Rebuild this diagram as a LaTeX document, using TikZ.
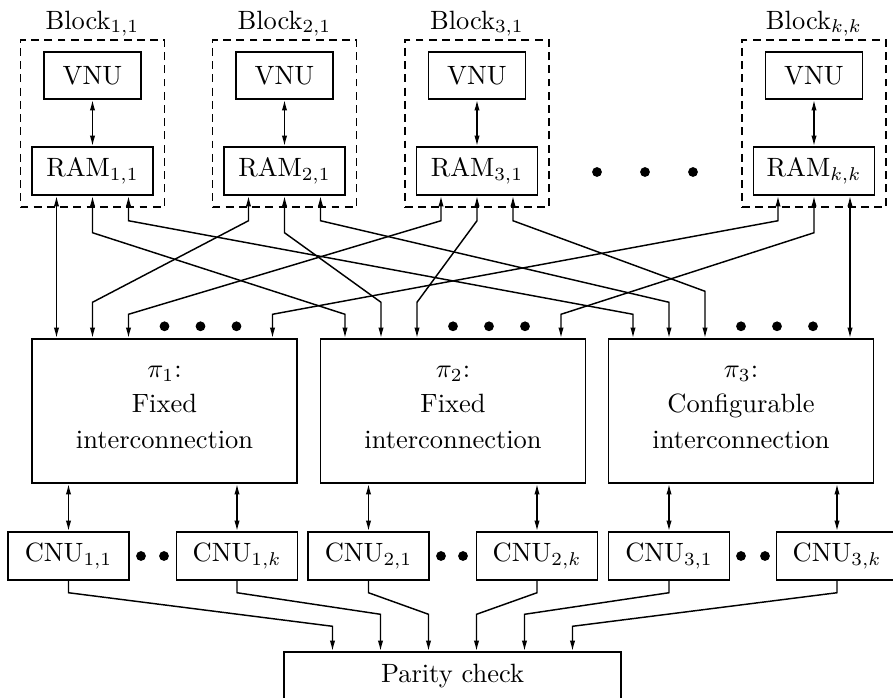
\documentclass[tikz,border=0pt]{standalone}
\usetikzlibrary{arrows.meta,calc}
\begin{document}
\begin{tikzpicture}[x=0.378pt,y=-0.378pt, line width=0.55pt,
  tipa/.tip={Latex[length=4pt,width=2pt]},
  arr/.style={-tipa},
  dbl/.style={tipa-tipa},
  ubox/.style={draw, inner sep=0pt, minimum width=45.74pt, minimum height=18.14pt},
  vnubox/.style={draw, inner sep=0pt, minimum width=36.67pt, minimum height=17.77pt},
  blkframe/.style={draw, dash pattern=on 3pt off 2pt, inner sep=0pt, minimum width=54.43pt, minimum height=63.13pt},
  pibox/.style={draw, align=center, inner sep=0pt, text depth=3pt, minimum width=100.17pt, minimum height=54.43pt},
  parbox/.style={draw, inner sep=0pt, minimum width=127.4pt, minimum height=18.14pt},
  dotr/.style={fill=black}]
\useasboundingbox (0,0) rectangle (893,697);

% top blocks
\foreach \i/\x/\s in {1/92.5/{1,1}, 2/284.5/{2,1}, 3/477/{3,1}, k/814/{k,k}} {
  \node[blkframe] (b\i) at (\x,123.5) {};
  \node[anchor=base] (bl\i) at (\x,29) {Block$_{\s}$};
  \node[vnubox] (v\i) at (\x,75.5) {VNU};
  \node[ubox] (r\i) at (\x,171) {RAM$_{\s}$};
  \draw[dbl] (v\i) -- (r\i);
}

% interconnection boxes
\node[pibox] (p1) at (164.5,411) {$\pi_1$:\\[1.5pt]Fixed\\[1.5pt]interconnection};
\node[pibox] (p2) at (453,411) {$\pi_2$:\\[1.5pt]Fixed\\[1.5pt]interconnection};
\node[pibox] (p3) at (741,411) {$\pi_3$:\\[1.5pt]Configurable\\[1.5pt]interconnection};

% CNUs
\node[ubox] (c11) at (68.5,556) {CNU$_{1,1}$};
\node[ubox] (c1k) at (237,556) {CNU$_{1,k}$};
\node[ubox] (c21) at (368.5,556) {CNU$_{2,1}$};
\node[ubox] (c2k) at (537,556) {CNU$_{2,k}$};
\node[ubox] (c31) at (669,556) {CNU$_{3,1}$};
\node[ubox] (c3k) at (837,556) {CNU$_{3,k}$};

% parity check
\node[parbox] (par) at (452.5,676) {Parity check};

% RAM -> interconnections
\draw[dbl] ($(r1.south)+(-36,0)$) coordinate (s1) -- (s1 |- p1.north);
\draw[dbl] ($(rk.south)+(36,0)$) coordinate (s2) -- (s2 |- p3.north);
\foreach \ra/\rdx/\rb/\pb/\pdx/\pbend in {r1/0/37/p2/-108/24, r1/36/25/p3/-108/24,
    r2/-36/25/p1/-72/36, r2/0/37/p2/-72/36, r2/36/25/p3/-72/36,
    r3/-36/25/p1/-36/24, r3/0/25/p2/-36/36, r3/36/25/p3/-36/47,
    rk/-36/25/p1/108/24, rk/0/37/p2/108/24}
  \draw[dbl] ($(\ra.south)+(\rdx,0)$) -- ++(0,\rb) -- ($(\pb.north)+(\pdx,-\pbend)$) -- ($(\pb.north)+(\pdx,0)$);

% interconnections -> CNUs
\foreach \c/\p in {c11/p1, c1k/p1, c21/p2, c2k/p2, c31/p3, c3k/p3}
  \draw[dbl] (\c.north |- \p.south) -- (\c.north);

% CNUs -> parity
\foreach \c/\dx/\bd in {c11/-120/25, c1k/-72/37, c21/-24/37, c2k/24/37, c31/72/37, c3k/120/25}
  \draw[arr] (\c.south) -- ++(0,12) -- ($(par.north)+(\dx,-\bd)$) -- ($(par.north)+(\dx,0)$);

% dots
\foreach \x in {597,645,693} \fill[dotr] (\x,172) circle (1.85pt);
\foreach \p in {p1,p2,p3} \foreach \d in {0,36,72}
  \fill[dotr] ($(\p.north)+(\d,-12)$) circle (1.85pt);
\foreach \x in {141,164,441,463,741,765} \fill[dotr] (\x,556) circle (1.85pt);
\end{tikzpicture}
\end{document}
